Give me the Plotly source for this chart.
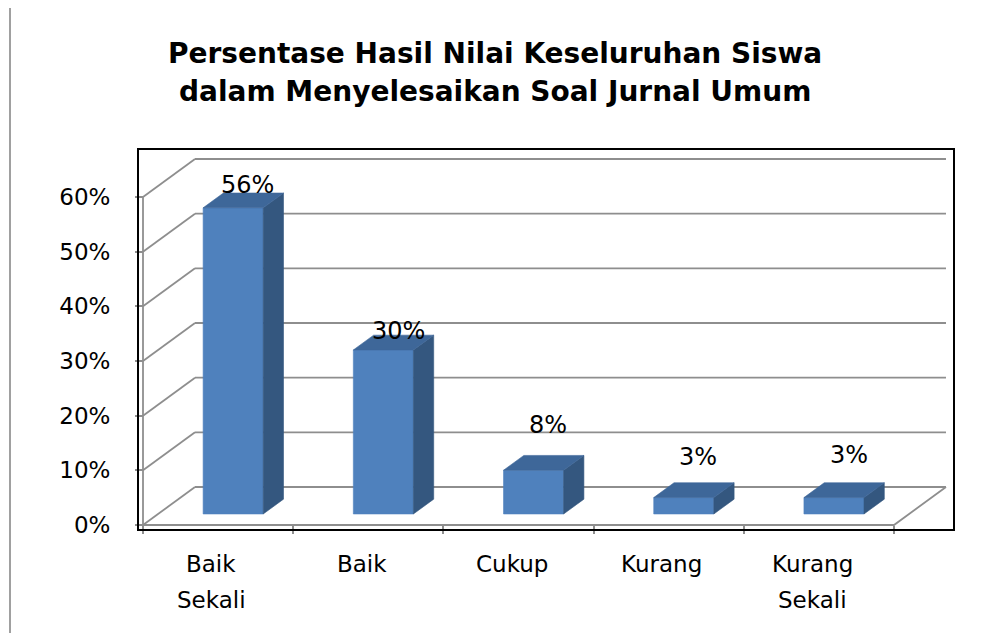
import plotly.graph_objects as go

# ---------------- data ----------------
categories = ["Baik Sekali", "Baik", "Cukup", "Kurang", "Kurang Sekali"]
values = [56, 30, 8, 3, 3]
value_labels = ["56%", "30%", "8%", "3%", "3%"]
y_ticks = [0, 10, 20, 30, 40, 50, 60]
y_tick_labels = ["0%", "10%", "20%", "30%", "40%", "50%", "60%"]
title_lines = ["Persentase Hasil Nilai Keseluruhan Siswa",
               "dalam Menyelesaikan Soal Jurnal Umum"]

# ---------------- style / geometry ----------------
FONT = "DejaVu Sans"
GRID = "#8E8E8E"
FRONT = "#4F81BD"
SIDE = "#34577F"
TOP = "#3E6799"
X_RANGE = [-0.0333, 5.3995]
Y_RANGE = [-0.915, 68.78]
DX = 0.3462          # depth offset in category units
DY = 6.951           # depth offset in value units
Z0, Z1 = 0.29, 0.68  # bar depth start / end (fraction of full depth)
BAR_HALF = 0.2
label_yshift = [8, 4, 30, 26, 28]
title_y = [1 + (149 - 53) / 381, 1 + (149 - 91) / 381]
n = len(categories)
ymax = y_ticks[-1]


def P(x, y, z):
    return x + z * DX, y + z * DY


fig = go.Figure()

# walls / floor lines
gx, gy = [], []
for v in y_ticks:
    for (x, y, z) in [(0, v, 1), (n, v, 1)]:
        px, py = P(x, y, z)
        gx.append(px); gy.append(py)
    gx.append(None); gy.append(None)
    for (x, y, z) in [(0, v, 0), (0, v, 1)]:
        px, py = P(x, y, z)
        gx.append(px); gy.append(py)
    gx.append(None); gy.append(None)
for seg in [[(0, 0, 0), (n, 0, 0), (n, 0, 1)], [(0, 0, 0), (0, ymax, 0)]]:
    for (x, y, z) in seg:
        px, py = P(x, y, z)
        gx.append(px); gy.append(py)
    gx.append(None); gy.append(None)

fig.add_trace(go.Scatter(x=gx, y=gy, mode="lines",
                         line=dict(color=GRID, width=1.8),
                         hoverinfo="skip", showlegend=False))

# bars
for i, v in enumerate(values):
    x0 = i + 0.5 - BAR_HALF
    x1 = i + 0.5 + BAR_HALF
    faces = [
        ([(x0, 0, Z0), (x1, 0, Z0), (x1, v, Z0), (x0, v, Z0)], FRONT),
        ([(x1, 0, Z0), (x1, 0, Z1), (x1, v, Z1), (x1, v, Z0)], SIDE),
        ([(x0, v, Z0), (x1, v, Z0), (x1, v, Z1), (x0, v, Z1)], TOP),
    ]
    for pts, col in faces:
        xs, ys = zip(*[P(*p) for p in pts])
        fig.add_trace(go.Scatter(x=list(xs) + [xs[0]], y=list(ys) + [ys[0]],
                                 mode="lines", fill="toself", fillcolor=col,
                                 line=dict(color=col, width=0.6),
                                 hoverinfo="skip", showlegend=False))

annotations = []
# value labels
for i, (v, lab) in enumerate(zip(values, value_labels)):
    lx, _ = P(i + 0.5, v, (Z0 + Z1) / 2 + 0.01)
    _, ly = P(i + 0.5, v, Z1)
    annotations.append(dict(x=lx, y=ly, xref="x", yref="y", text=lab,
                            showarrow=False, xshift=4, yshift=label_yshift[i],
                            yanchor="middle", xanchor="center",
                            font=dict(family=FONT, size=24, color="black")))

# category labels (wrapped lines)
for i, c in enumerate(categories):
    for k, line in enumerate(c.split(" ")):
        annotations.append(dict(x=i + 0.5 - 0.045, y=0, xref="x", yref="paper",
                                text=line, showarrow=False,
                                yshift=-34 - 36 * k, yanchor="middle",
                                xanchor="center",
                                font=dict(family=FONT, size=23, color="black")))

# title lines
for t, ty in zip(title_lines, title_y):
    annotations.append(dict(x=(495 - 138) / 816, y=ty, xref="paper", yref="paper",
                            text="<b>" + t + "</b>", showarrow=False,
                            xanchor="center", yanchor="middle",
                            font=dict(family=FONT, size=28, color="black")))

fig.update_layout(
    width=990, height=625,
    margin=dict(l=130, r=44, t=141, b=103, pad=0),
    paper_bgcolor="white", plot_bgcolor="white",
    showlegend=False,
    annotations=annotations,
    shapes=[
        dict(type="rect", xref="paper", yref="paper", x0=0, x1=1, y0=0, y1=1,
             line=dict(color="black", width=2), layer="above"),
        dict(type="line", xref="paper", yref="paper",
             x0=(10 - 138) / 816, x1=(10 - 138) / 816,
             y0=(530 - 640) / 381, y1=(530 - 7) / 381,
             line=dict(color="#A0A0A0", width=2)),
    ],
    xaxis=dict(range=X_RANGE, showgrid=False, zeroline=False, showline=False,
               tickmode="array", tickvals=list(range(n + 1)),
               showticklabels=False, ticks="outside", ticklen=8,
               tickcolor=GRID, tickwidth=1.5,
               anchor="free", position=5 / 381),
    yaxis=dict(range=Y_RANGE, showgrid=False, zeroline=False, showline=False,
               tickmode="array", tickvals=y_ticks, ticktext=y_tick_labels,
               ticks="outside", ticklen=8, tickcolor=GRID, tickwidth=1.5,
               ticklabelstandoff=20,
               tickfont=dict(family=FONT, size=23, color="black"),
               anchor="free", position=5 / 816),
)

fig.write_html("out.html")
